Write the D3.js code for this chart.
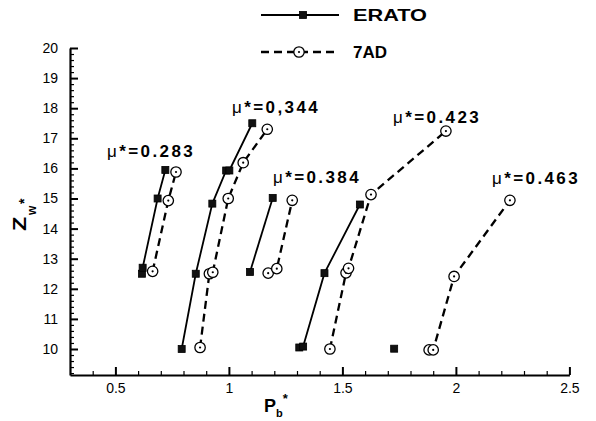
<!DOCTYPE html>
<html>
<head>
<meta charset="utf-8">
<script src="https://cdn.jsdelivr.net/npm/d3@7"></script>
<style>
  html, body { margin: 0; padding: 0; background: #fff; }
  svg { display: block; font-family: "Liberation Sans", Arial, Helvetica, sans-serif; }
</style>
</head>
<body>
<svg id="chart" width="596" height="421"></svg>
<script>
// Friction coefficient groups (label text as printed on the chart)
const muLabels = ["0.283", "0,344", "0.384", "0.423", "0.463"];
// label anchor (left end, baseline) in axis units
const muLabelPos = [[0.463, 16.38], [1.014, 17.84], [1.194, 15.52], [1.723, 17.51], [2.159, 15.48]];

// ERATO results, one list per friction group: P_b* and Z_w*
const eratoPb = [
  [0.617, 0.620, 0.686, 0.720],
  [0.792, 0.854, 0.927, 0.988, 1.002, 1.103],
  [1.093, 1.193],
  [1.310, 1.327, 1.421, 1.577],
  [1.728]
];
const eratoZw = [
  [12.50, 12.70, 15.00, 15.95],
  [10.00, 12.50, 14.83, 15.93, 15.93, 17.50],
  [12.56, 15.02],
  [10.05, 10.08, 12.52, 14.80],
  [10.01]
];

// 7AD results
const adPb = [
  [0.664, 0.733, 0.767],
  [0.873, 0.914, 0.929, 0.997, 1.063, 1.169],
  [1.173, 1.211, 1.279],
  [1.445, 1.516, 1.527, 1.626, 1.956],
  [1.882, 1.900, 1.992, 2.238]
];
const adZw = [
  [12.58, 14.93, 15.88],
  [10.05, 12.50, 12.55, 15.00, 16.19, 17.30],
  [12.52, 12.67, 14.94],
  [10.00, 12.53, 12.68, 15.13, 17.24],
  [9.97, 9.97, 12.41, 14.94]
];

const xTicks = [0.5, 1, 1.5, 2, 2.5];
const yTicks = [10, 11, 12, 13, 14, 15, 16, 17, 18, 19, 20];
const seriesNames = ["ERATO", "7AD"];

const svg = d3.select("#chart");

const x = d3.scaleLinear().domain([0.3, 2.5]).range([70, 569.4]);
const y = d3.scaleLinear().domain([9.136, 20]).range([375, 48]);

const g = svg.append("g");

// Minor ticks (inside the plot)
const xMinor = d3.range(0.4, 2.5001, 0.1).map(v => +v.toFixed(2)).filter(v => !xTicks.some(t => Math.abs(t - v) < 1e-6));
const yMinor = d3.range(9.2, 20.0001, 0.2).map(v => +v.toFixed(2)).filter(v => !yTicks.some(t => Math.abs(t - v) < 1e-6));

g.append("g").attr("transform", `translate(0,${y.range()[0]})`)
  .call(d3.axisTop(x).tickValues(xMinor).tickSize(4).tickFormat(""))
  .call(a => a.select(".domain").remove())
  .call(a => a.selectAll("line").attr("stroke", "#000").attr("stroke-width", 1.2));
g.append("g").attr("transform", `translate(${x.range()[0]},0)`)
  .call(d3.axisRight(y).tickValues(yMinor).tickSize(4).tickFormat(""))
  .call(a => a.select(".domain").remove())
  .call(a => a.selectAll("line").attr("stroke", "#000").attr("stroke-width", 1.2));

// Major ticks + labels
const xAxis = g.append("g").attr("transform", `translate(0,${y.range()[0]})`)
  .call(d3.axisBottom(x).tickValues(xTicks).tickSizeInner(0).tickSizeOuter(0).tickPadding(8)
    .tickFormat(d => String(d)));
xAxis.select(".domain").attr("stroke", "#000").attr("stroke-width", 2.2);
xAxis.selectAll("text").attr("font-size", 14).attr("fill", "#000");
xAxis.selectAll(".tick").append("line").attr("y1", 0).attr("y2", -8).attr("stroke", "#000").attr("stroke-width", 2);

const yAxis = g.append("g").attr("transform", `translate(${x.range()[0]},0)`)
  .call(d3.axisLeft(y).tickValues(yTicks).tickSizeInner(0).tickSizeOuter(0).tickPadding(12)
    .tickFormat(d => String(d)));
yAxis.select(".domain").attr("stroke", "#000").attr("stroke-width", 2.2);
yAxis.selectAll("text").attr("font-size", 14).attr("fill", "#000");
yAxis.selectAll(".tick").append("line").attr("x1", 0).attr("x2", 8).attr("stroke", "#000").attr("stroke-width", 2);

// Axis titles
const xt = svg.append("text").attr("x", 276).attr("y", 412)
  .attr("text-anchor", "middle").attr("font-weight", "bold").attr("font-size", 18);
xt.append("tspan").text("P");
xt.append("tspan").attr("font-size", 11).attr("dy", 5).text("b");
xt.append("tspan").attr("font-size", 13).attr("dy", -14).text("*");

const yt = svg.append("g").attr("transform", "translate(26,231) rotate(-90)");
yt.append("text").attr("transform", "scale(1.3,1)").attr("font-weight", "bold").attr("font-size", 18).text("Z");
yt.append("text").attr("x", 16).attr("y", 10).attr("font-weight", "bold").attr("font-size", 12).text("w");
yt.append("text").attr("x", 27).attr("y", 3).attr("font-weight", "bold").attr("font-size", 14).text("*");

// Lines and markers
const line = d3.line().x(d => x(d[0])).y(d => y(d[1]));
const plot = svg.append("g");

function drawSquare(sel, cx, cy) {
  sel.append("rect").attr("x", cx - 3.5).attr("y", cy - 3.5).attr("width", 7).attr("height", 7)
    .attr("fill", "#111").attr("stroke", "#000").attr("stroke-width", 0.8);
}
function drawCircle(sel, cx, cy) {
  sel.append("circle").attr("cx", cx).attr("cy", cy).attr("r", 5.2)
    .attr("fill", "#fff").attr("stroke", "#000").attr("stroke-width", 1.3);
  sel.append("circle").attr("cx", cx).attr("cy", cy).attr("r", 1.1).attr("fill", "#000");
}

adPb.forEach((xs, i) => {
  const pts = xs.map((v, j) => [v, adZw[i][j]]);
  plot.append("path").attr("d", line(pts)).attr("fill", "none").attr("stroke", "#000")
    .attr("stroke-width", 2.3).attr("stroke-dasharray", "8,5");
});
eratoPb.forEach((xs, i) => {
  const pts = xs.map((v, j) => [v, eratoZw[i][j]]);
  plot.append("path").attr("d", line(pts)).attr("fill", "none").attr("stroke", "#000")
    .attr("stroke-width", 1.8);
});
adPb.forEach((xs, i) => xs.forEach((v, j) => drawCircle(plot, x(v), y(adZw[i][j]))));
eratoPb.forEach((xs, i) => xs.forEach((v, j) => drawSquare(plot, x(v), y(eratoZw[i][j]))));

// Group labels
muLabels.forEach((m, i) => {
  const t = svg.append("text").attr("x", x(muLabelPos[i][0])).attr("y", y(muLabelPos[i][1]))
    .attr("font-size", 17).attr("font-weight", "bold")
    .attr("letter-spacing", 2.4).attr("fill", "#000");
  t.append("tspan").attr("font-weight", "normal").text("\u03bc");
  t.append("tspan").text("*=" + m);
});

// Legend
const leg = svg.append("g");
leg.append("line").attr("x1", 261).attr("x2", 339).attr("y1", 15).attr("y2", 15)
  .attr("stroke", "#000").attr("stroke-width", 1.8);
drawSquare(leg, 303, 15);
leg.append("text").attr("x", 353).attr("y", 21).attr("font-size", 16).attr("font-weight", "bold")
  .attr("textLength", 74).attr("lengthAdjust", "spacingAndGlyphs").text(seriesNames[0]);
leg.append("line").attr("x1", 261).attr("x2", 339).attr("y1", 52).attr("y2", 52)
  .attr("stroke", "#000").attr("stroke-width", 2.3).attr("stroke-dasharray", "8,5");
drawCircle(leg, 299, 52);
leg.append("text").attr("x", 353).attr("y", 58).attr("font-size", 16).attr("font-weight", "bold")
  .attr("textLength", 34).attr("lengthAdjust", "spacingAndGlyphs").text(seriesNames[1]);
</script>
</body>
</html>
